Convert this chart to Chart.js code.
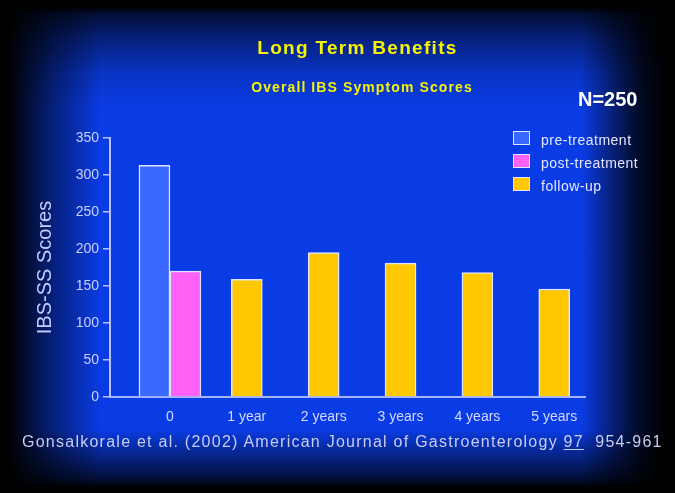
<!DOCTYPE html>
<html>
<head>
<meta charset="utf-8">
<title>Long Term Benefits</title>
<script src="https://cdn.jsdelivr.net/npm/chart.js@4/dist/chart.umd.min.js"></script>
<style>
  html, body { margin: 0; padding: 0; background: #000; }
  body { width: 675px; height: 493px; overflow: hidden; position: relative;
         font-family: "Liberation Sans", Arial, sans-serif; }
  .slide { position: absolute; left: 0; top: 0; width: 675px; height: 493px;
           background:
             linear-gradient(to right, #000 0%, #000 1.2%, rgba(0,0,0,0.85) 3%, rgba(0,0,0,0.45) 8%, rgba(0,0,0,0) 15%,
                             rgba(0,0,0,0) 86%, rgba(0,0,0,0.5) 91%, rgba(0,0,0,0.85) 95%, #000 98.5%),
             linear-gradient(to bottom, #000 0%, #000 1.4%, rgba(0,0,0,0.75) 3%, rgba(0,0,0,0.45) 8%, rgba(0,0,0,0.15) 15%, rgba(0,0,0,0) 22%,
                             rgba(0,0,0,0) 87%, rgba(0,0,0,0.45) 93%, rgba(0,0,0,0.75) 97%, #000 99%),
             #0a3ce6; }
  #chart { position: absolute; left: 0; top: 0; }
  .txt { position: absolute; white-space: nowrap; }
  .title { top: 37px; left: 0; width: 715px; text-align: center; color: #f4f400;
           font-weight: bold; font-size: 19px; letter-spacing: 1.3px; }
  .subtitle { top: 79px; left: 0; width: 724px; text-align: center; color: #f4f400;
              font-weight: bold; font-size: 14px; letter-spacing: 1.1px; }
  .n { top: 88px; left: 578px; color: #fff; font-weight: bold; font-size: 20px; }
  .cite { top: 433px; left: 22px; color: #c8cdee; font-size: 16px; letter-spacing: 1.25px; }
  .cite u { text-underline-offset: 2px; }
  #legend { position: absolute; left: 513px; top: 131px; }
  #legend div { height: 23px; position: relative; }
  #legend span.box { position: absolute; left: 0; top: 0; width: 15px; height: 12px;
                     border: 1.5px solid #dfe4ff; }
  #legend span.lbl { position: absolute; left: 28px; top: 1px; color: #e4e6ff;
                     font-size: 14px; letter-spacing: 0.5px; white-space: nowrap; }
</style>
</head>
<body>
<div class="slide"></div>
<canvas id="chart" width="675" height="493"></canvas>
<div class="txt title">Long Term Benefits</div>
<div class="txt subtitle">Overall IBS Symptom Scores</div>
<div class="txt n">N=250</div>
<div id="legend"></div>
<div class="txt cite">Gonsalkorale et al. (2002) American Journal of Gastroenterology <u>97</u>&nbsp; 954-961</div>
<script>
  // categories (x) and the three series; null = no bar in that slot
  var xLabels = ['0', '1 year', '2 years', '3 years', '4 years', '5 years'];
  var preTreatment = [313, null, null, null, null, null];
  var postTreatment = [170, null, null, null, null, null];
  var followUp = [null, 159, 195, 181, 168, 146];
  var yTicks = [0, 50, 100, 150, 200, 250, 300, 350];

  var FONT = '"Liberation Sans", Arial, sans-serif';

  function points(arr) {
    return arr.map(function (v, i) { return { x: i, y: v }; });
  }

  var datasets = [
    { label: 'pre-treatment', data: points(preTreatment), backgroundColor: '#3868ff' },
    { label: 'post-treatment', data: points(postTreatment), backgroundColor: '#ff60f6' },
    { label: 'follow-up', data: points(followUp), backgroundColor: '#ffc800' }
  ];
  datasets.forEach(function (d) {
    d.borderColor = '#dfe4ff';
    d.borderWidth = 1.5;
    d.barThickness = 31;
    d.skipNull = true;
  });

  // legend in html, built from the datasets
  var legend = document.getElementById('legend');
  datasets.forEach(function (d) {
    var row = document.createElement('div');
    row.innerHTML = '<span class="box" style="background:' + d.backgroundColor + '"></span>' +
      '<span class="lbl">' + d.label + '</span>';
    legend.appendChild(row);
  });

  new Chart(document.getElementById('chart'), {
    type: 'bar',
    data: { datasets: datasets },
    options: {
      responsive: false,
      animation: false,
      events: [],
      layout: { padding: { top: 138, right: 90, bottom: 0, left: 0 } },
      plugins: { legend: { display: false }, tooltip: { enabled: false } },
      scales: {
        x: {
          type: 'linear',
          offset: false,
          min: -0.78,
          max: 5.4,
          afterFit: function (s) { s.height = 96; },
          grid: { display: false },
          border: { color: '#a4b4ff', width: 2 },
          ticks: {
            stepSize: 1,
            includeBounds: false,
            autoSkip: false,
            maxRotation: 0,
            padding: 4,
            color: '#d4d8ff',
            font: { family: FONT, size: 14 },
            callback: function (v) { return xLabels[v]; }
          }
        },
        y: {
          min: yTicks[0],
          max: yTicks[yTicks.length - 1],
          afterFit: function (s) { s.width = 110; },
          grid: { drawOnChartArea: false, tickLength: 7, color: '#b4c0ff', lineWidth: 1.5 },
          border: { color: '#b4c0ff', width: 2 },
          ticks: {
            stepSize: 50,
            padding: 4,
            color: '#c8d0ff',
            font: { family: FONT, size: 14 }
          },
          title: {
            display: true,
            text: 'IBS-SS Scores',
            color: '#c4ccff',
            font: { family: FONT, size: 20 },
            padding: { top: 33, bottom: 0 }
          }
        }
      }
    }
  });
</script>
</body>
</html>
